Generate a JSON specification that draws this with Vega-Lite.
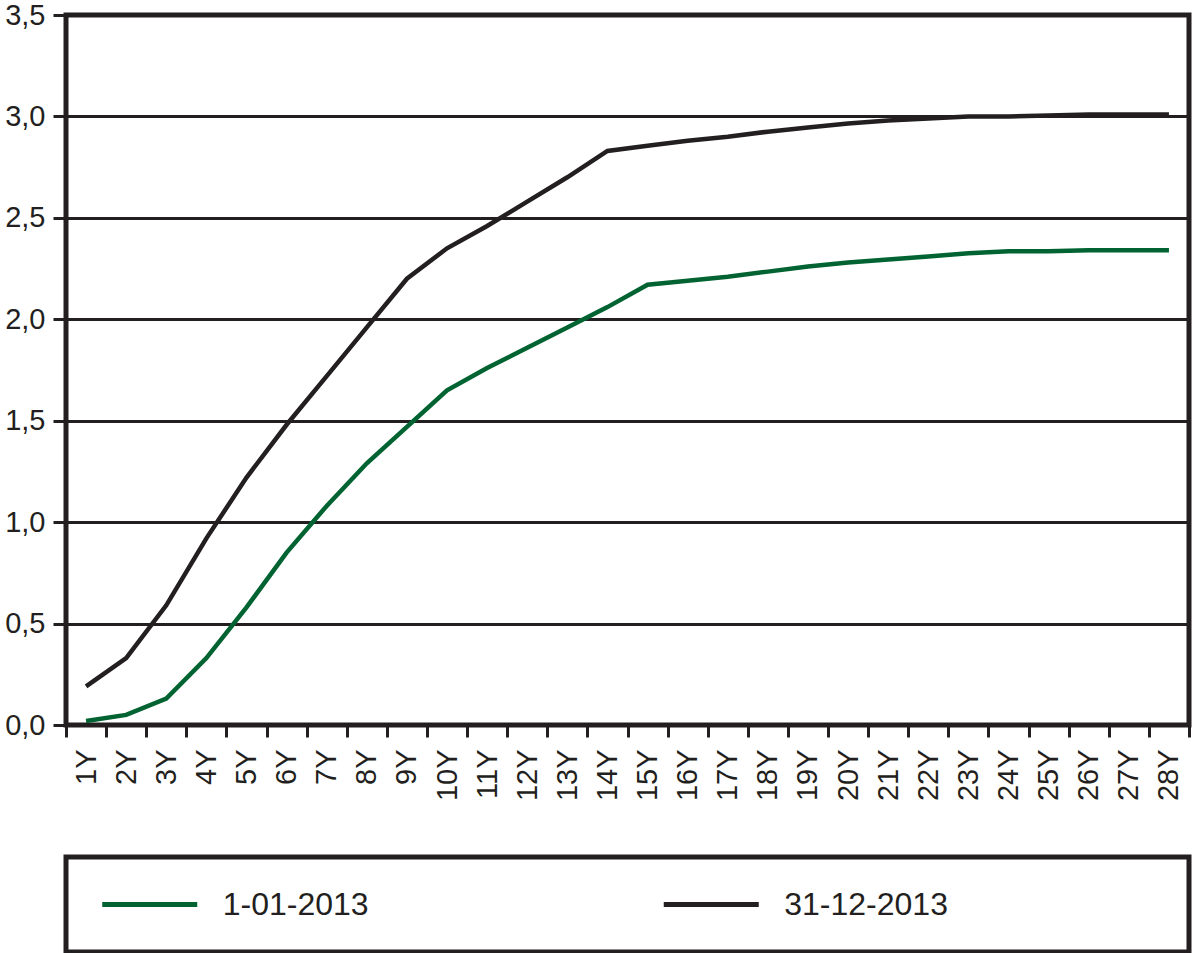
{
  "$schema": "https://vega.github.io/schema/vega-lite/v6.json",
  "padding": {"left": 2, "top": -2, "right": 0, "bottom": 0},
  "background": "white",
  "config": {"view": {"stroke": "#231f20", "strokeWidth": 5}, "font": "Liberation Sans"},
  "datasets": {
    "curve": [
      {"term": "1Y", "series": "1-01-2013", "value": 0.02},
      {"term": "2Y", "series": "1-01-2013", "value": 0.05},
      {"term": "3Y", "series": "1-01-2013", "value": 0.13},
      {"term": "4Y", "series": "1-01-2013", "value": 0.33},
      {"term": "5Y", "series": "1-01-2013", "value": 0.58},
      {"term": "6Y", "series": "1-01-2013", "value": 0.85},
      {"term": "7Y", "series": "1-01-2013", "value": 1.08},
      {"term": "8Y", "series": "1-01-2013", "value": 1.29},
      {"term": "9Y", "series": "1-01-2013", "value": 1.47},
      {"term": "10Y", "series": "1-01-2013", "value": 1.65},
      {"term": "11Y", "series": "1-01-2013", "value": 1.76},
      {"term": "12Y", "series": "1-01-2013", "value": 1.86},
      {"term": "13Y", "series": "1-01-2013", "value": 1.96},
      {"term": "14Y", "series": "1-01-2013", "value": 2.06},
      {"term": "15Y", "series": "1-01-2013", "value": 2.17},
      {"term": "16Y", "series": "1-01-2013", "value": 2.19},
      {"term": "17Y", "series": "1-01-2013", "value": 2.21},
      {"term": "18Y", "series": "1-01-2013", "value": 2.235},
      {"term": "19Y", "series": "1-01-2013", "value": 2.26},
      {"term": "20Y", "series": "1-01-2013", "value": 2.28},
      {"term": "21Y", "series": "1-01-2013", "value": 2.295},
      {"term": "22Y", "series": "1-01-2013", "value": 2.31},
      {"term": "23Y", "series": "1-01-2013", "value": 2.325},
      {"term": "24Y", "series": "1-01-2013", "value": 2.335},
      {"term": "25Y", "series": "1-01-2013", "value": 2.335},
      {"term": "26Y", "series": "1-01-2013", "value": 2.34},
      {"term": "27Y", "series": "1-01-2013", "value": 2.34},
      {"term": "28Y", "series": "1-01-2013", "value": 2.34},
      {"term": "1Y", "series": "31-12-2013", "value": 0.19},
      {"term": "2Y", "series": "31-12-2013", "value": 0.33},
      {"term": "3Y", "series": "31-12-2013", "value": 0.59},
      {"term": "4Y", "series": "31-12-2013", "value": 0.92},
      {"term": "5Y", "series": "31-12-2013", "value": 1.22},
      {"term": "6Y", "series": "31-12-2013", "value": 1.48},
      {"term": "7Y", "series": "31-12-2013", "value": 1.72},
      {"term": "8Y", "series": "31-12-2013", "value": 1.96},
      {"term": "9Y", "series": "31-12-2013", "value": 2.2},
      {"term": "10Y", "series": "31-12-2013", "value": 2.35},
      {"term": "11Y", "series": "31-12-2013", "value": 2.46},
      {"term": "12Y", "series": "31-12-2013", "value": 2.58},
      {"term": "13Y", "series": "31-12-2013", "value": 2.7},
      {"term": "14Y", "series": "31-12-2013", "value": 2.83},
      {"term": "15Y", "series": "31-12-2013", "value": 2.855},
      {"term": "16Y", "series": "31-12-2013", "value": 2.88},
      {"term": "17Y", "series": "31-12-2013", "value": 2.9},
      {"term": "18Y", "series": "31-12-2013", "value": 2.925},
      {"term": "19Y", "series": "31-12-2013", "value": 2.945},
      {"term": "20Y", "series": "31-12-2013", "value": 2.965},
      {"term": "21Y", "series": "31-12-2013", "value": 2.98},
      {"term": "22Y", "series": "31-12-2013", "value": 2.99},
      {"term": "23Y", "series": "31-12-2013", "value": 3.0},
      {"term": "24Y", "series": "31-12-2013", "value": 3.0},
      {"term": "25Y", "series": "31-12-2013", "value": 3.005},
      {"term": "26Y", "series": "31-12-2013", "value": 3.01},
      {"term": "27Y", "series": "31-12-2013", "value": 3.01},
      {"term": "28Y", "series": "31-12-2013", "value": 3.01}
    ],
    "series": [{"series": "1-01-2013"}, {"series": "31-12-2013"}]
  },
  "bounds": "flush",
  "spacing": 132,
  "resolve": {"scale": {"x": "independent", "color": "independent"}},
  "vconcat": [
    {
      "width": 1123,
      "height": 710,
      "data": {"name": "curve"},
      "mark": {"type": "line", "strokeWidth": 4.5},
      "encoding": {
        "x": {
          "field": "term", "type": "ordinal", "sort": null, "bandPosition": 0.5,
          "scale": {"type": "band", "paddingInner": 0, "paddingOuter": 0},
          "axis": {
            "title": null, "labelAngle": -90, "labelFontSize": 29, "labelColor": "#231f20",
            "labelFont": "Liberation Sans", "tickSize": 12, "tickWidth": 3, "tickColor": "#231f20",
            "tickBand": "extent", "labelPadding": 12, "domain": false, "grid": false
          }
        },
        "y": {
          "field": "value", "type": "quantitative",
          "scale": {"domain": [0, 3.5], "nice": false},
          "axis": {
            "title": null, "values": [0, 0.5, 1, 1.5, 2, 2.5, 3, 3.5],
            "labelExpr": "replace(format(datum.value, '.1f'), '.', ',')",
            "labelFontSize": 29, "labelColor": "#231f20", "labelFont": "Liberation Sans",
            "tickSize": 13, "tickWidth": 3, "tickColor": "#231f20", "labelPadding": 8,
            "grid": true, "gridColor": "#231f20", "gridWidth": 3, "gridOpacity": 1, "domain": false
          }
        },
        "color": {
          "field": "series", "type": "nominal",
          "scale": {"domain": ["1-01-2013", "31-12-2013"], "range": ["#006331", "#231f20"]},
          "legend": null
        },
        "order": {"value": null}
      }
    },
    {
      "width": 1123,
      "height": 95,
      "data": {"name": "series"},
      "encoding": {
        "x": {"field": "series", "type": "nominal", "sort": null, "scale": {"type": "point", "padding": 0.5}, "axis": null}
      },
      "layer": [
        {
          "mark": {"type": "point", "shape": "stroke", "size": 9025, "strokeWidth": 5, "opacity": 1, "xOffset": -197},
          "encoding": {
            "color": {
              "field": "series", "type": "nominal",
              "scale": {"domain": ["1-01-2013", "31-12-2013"], "range": ["#006331", "#231f20"]},
              "legend": null
            }
          }
        },
        {
          "mark": {"type": "text", "dx": -124, "align": "left", "baseline": "middle", "fontSize": 32, "font": "Liberation Sans", "color": "#231f20"},
          "encoding": {"text": {"field": "series"}}
        }
      ]
    }
  ]
}
